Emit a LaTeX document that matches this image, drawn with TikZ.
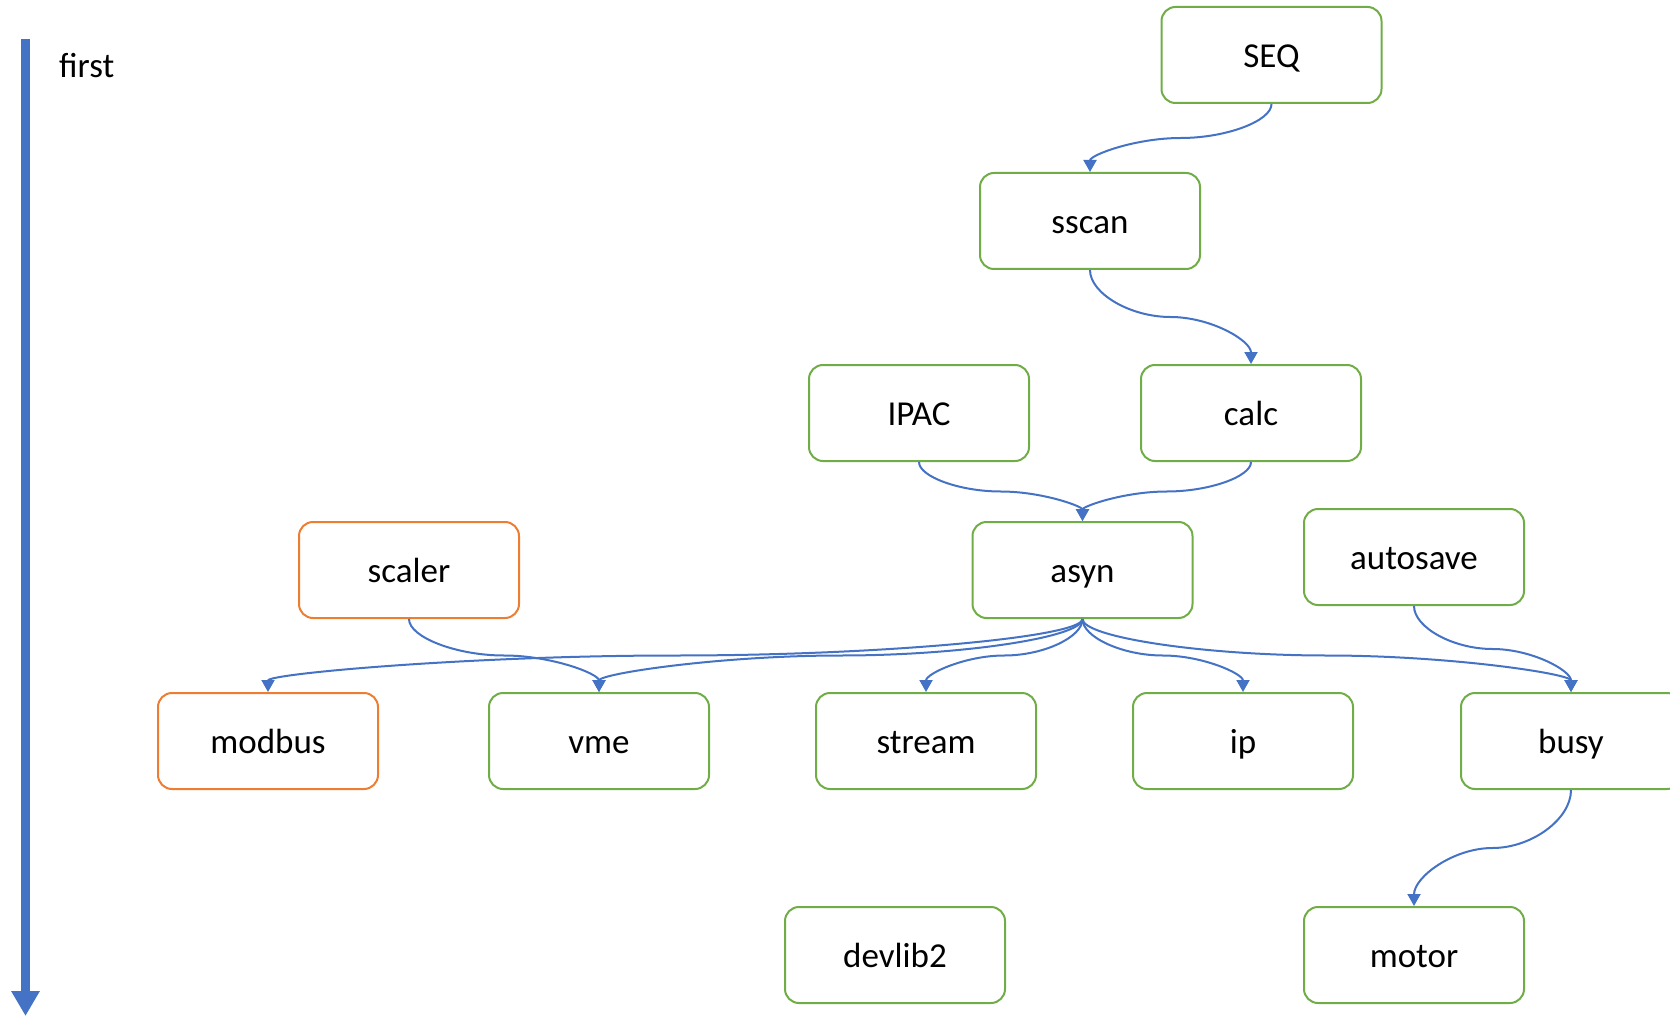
\documentclass[tikz,border=0pt]{standalone}
\usepackage{fontspec}
\setmainfont{Carlito}
\usetikzlibrary{arrows.meta,calc}
\definecolor{oblue}{HTML}{4472C4}
\definecolor{ogreen}{HTML}{70AD47}
\definecolor{oorange}{HTML}{ED7D31}
\begin{document}
\begin{tikzpicture}[x=1pt,y=-1pt,
  box/.style={draw=ogreen, line width=2pt, rounded corners=14pt, minimum width=220pt,
    minimum height=96pt, inner sep=0pt, font=\fontsize{35}{42}\selectfont,
    text height=24.5pt, text depth=0pt},
  obox/.style={box, draw=oorange},
  curv/.style={to path={let \p1=(\tikztostart), \p2=(\tikztotarget) in
    .. controls (\x1,{(3*\y1+\y2)/4}) and ({(3*\x1+\x2)/4},{(\y1+\y2)/2}) .. ({(\x1+\x2)/2},{(\y1+\y2)/2})
    .. controls ({(\x1+3*\x2)/4},{(\y1+\y2)/2}) and (\x2,{(\y1+3*\y2)/4}) .. (\x2,\y2) \tikztonodes}},
  conn/.style={draw=oblue, line width=2pt, -{Triangle[length=12pt,width=13pt]}, curv},
  timeline/.style={draw=oblue, line width=8.5pt, -{Triangle[length=25pt,width=27pt]}}
]
\clip (0,0) rectangle (1670,1016);
\useasboundingbox (0,0) rectangle (1670,1016);

% time axis
\coordinate (bartop) at (25.5,39);
\coordinate (barend) at (25.5,1016);
\draw[timeline] (bartop) -- (barend);
\node[anchor=base west, font=\fontsize{35}{42}\selectfont, inner sep=0pt] (first) at (59,78) {first};

% nodes
\node[box]  (SEQ)      at (1271.5,55)  {SEQ};
\node[box]  (sscan)    at (1090,221)   {sscan};
\node[box]  (IPAC)     at (919,413)    {IPAC};
\node[box]  (calc)     at (1251,413)   {calc};
\node[obox] (scaler)   at (409,570)    {scaler};
\node[box]  (asyn)     at (1082.5,570) {asyn};
\node[box]  (autosave) at (1414,557)   {autosave};
\node[obox] (modbus)   at (268,741)    {modbus};
\node[box]  (vme)      at (599,741)    {vme};
\node[box]  (stream)   at (926,741)    {stream};
\node[box]  (ip)       at (1243,741)   {ip};
\node[box]  (busy)     at (1571,741)   {busy};
\node[box]  (devlib2)  at (895,955)    {devlib2};
\node[box]  (motor)    at (1414,955)   {motor};

% connectors
\draw[conn] (SEQ.south) to (sscan.north);
\draw[conn] (sscan.south) to (calc.north);
\draw[conn] (IPAC.south) to (asyn.north);
\draw[conn] (calc.south) to (asyn.north);
\draw[conn] (scaler.south) to (vme.north);
\draw[conn] (asyn.south) to (modbus.north);
\draw[conn] (asyn.south) to (vme.north);
\draw[conn] (asyn.south) to (stream.north);
\draw[conn] (asyn.south) to (ip.north);
\draw[conn] (asyn.south) to (busy.north);
\draw[conn] (autosave.south) to (busy.north);
\draw[conn] (busy.south) to (motor.north);
\end{tikzpicture}
\end{document}
